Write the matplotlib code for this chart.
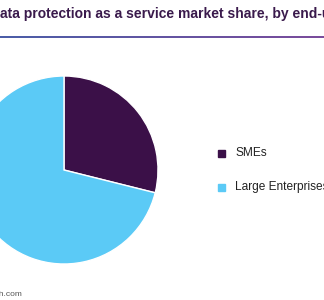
import matplotlib.pyplot as plt
import numpy as np
from matplotlib.patches import Rectangle
from matplotlib.colors import LinearSegmentedColormap

plt.rcParams['font.family'] = ['Liberation Sans', 'DejaVu Sans']

TITLE = "Data protection as a service market share, by end-use"
SOURCE = "Source: www.grandviewresearch.com"
labels = ["SMEs", "Large Enterprises"]
shares = [28.9, 71.1]
colors = ["#3b1048", "#5bcaf6"]

W, H = 324, 300
fig = plt.figure(figsize=(W / 100, H / 100), dpi=100)
ax = fig.add_axes([0, 0, 1, 1])

# gradient rule under the title
grad = np.linspace(0, 1, 256).reshape(1, -1)
cmap = LinearSegmentedColormap.from_list("rule", ["#4b5ea8", "#7b4c9c"])
ax.imshow(grad, cmap=cmap, extent=[0, W, H - 38, H - 36], aspect='auto')

ax.pie(shares, colors=colors, startangle=90, counterclock=False,
       center=(64, H - 170), radius=94,
       wedgeprops=dict(edgecolor='white', linewidth=1))

# legend drawn by hand
for i, (lab, col) in enumerate(zip(labels, colors)):
    y = H - (153 + i * 34)
    ax.add_patch(Rectangle((218, y - 3.5), 7, 7, color=col))
    ax.text(235, y, lab, fontsize=8.6, va='center', ha='left', color='#222222')

ax.text(-9.5, H - 14, TITLE, fontsize=10, fontweight='bold', color='#3a1a4c',
        va='center', ha='left')
ax.text(22, H - 295, SOURCE, fontsize=6, color='#555555', va='center', ha='right')

ax.set_xlim(0, W)
ax.set_ylim(0, H)
ax.set_aspect('auto')
ax.axis('off')

fig.savefig("out.png", dpi=100, facecolor='white')
